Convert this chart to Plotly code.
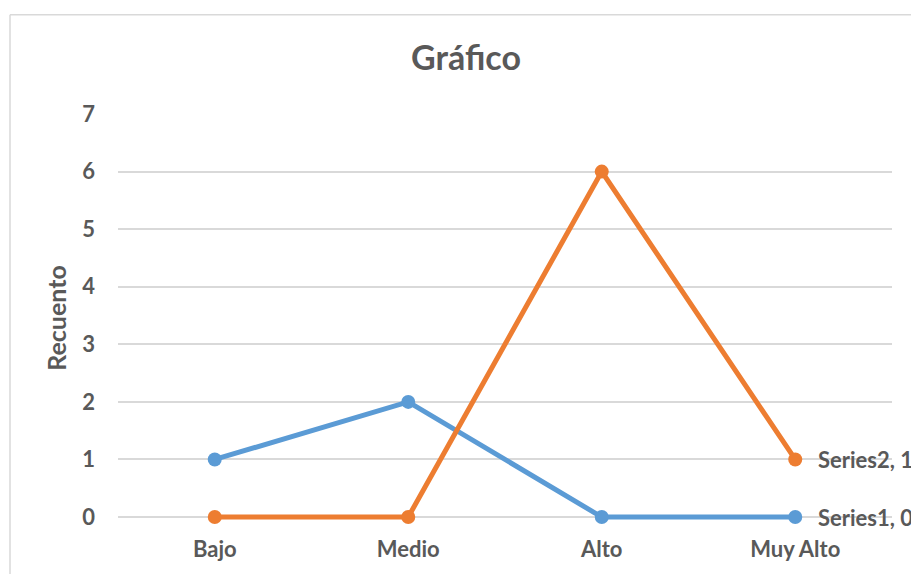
import plotly.graph_objects as go

categories = ["Bajo", "Medio", "Alto", "Muy Alto"]
series1 = [1, 2, 0, 0]
series2 = [0, 0, 6, 1]
y_ticks = [0, 1, 2, 3, 4, 5, 6, 7]

FONT = "Lato, 'Open Sans', sans-serif"
TXT = "#595959"
GRID = "#d9d9d9"

# a small pad below 0 keeps the zero-valued line segments from being
# clipped in half by the plot area
PAD = 35 / 406

fig = go.Figure()
for name, values, color in [("Series1", series1, "#5b9bd5"),
                            ("Series2", series2, "#ed7d31")]:
    fig.add_trace(go.Scatter(
        x=categories, y=values, name=name, mode="lines+markers",
        line=dict(color=color, width=5), marker=dict(size=14, color=color),
        cliponaxis=False,
    ))
    # label on the last point
    fig.add_annotation(
        x=categories[-1], y=values[-1], text=f"<b>{name}, {values[-1]}</b>",
        xanchor="left", yanchor="middle", xshift=21, showarrow=False,
        font=dict(family=FONT, size=22, color=TXT),
    )

# outer chart frame (top and left edges)
top_y = (525 - 14) / 411
left_x = (10 - 118) / 774
fig.add_shape(type="line", xref="paper", yref="paper",
              x0=left_x, x1=2, y0=top_y, y1=top_y,
              line=dict(color=GRID, width=1.5))
fig.add_shape(type="line", xref="paper", yref="paper",
              x0=left_x, x1=left_x, y0=top_y, y1=-1,
              line=dict(color=GRID, width=1.5))

fig.update_layout(
    width=911, height=574,
    margin=dict(l=118, r=19, t=114, b=49),
    paper_bgcolor="white", plot_bgcolor="white",
    showlegend=False,
    title=dict(text="<b>Gráfico</b>", x=466 / 911, xanchor="center",
               y=1 - 58 / 574, yanchor="middle",
               font=dict(family=FONT, size=34, color=TXT)),
    font=dict(family=FONT, color=TXT),
)
fig.update_xaxes(
    type="category", range=[-0.5, 3.5], showgrid=False, zeroline=False,
    showline=False, ticks="", ticklabelstandoff=12,
    tickfont=dict(family=FONT, size=22, color=TXT, weight="bold"),
)
fig.update_yaxes(
    range=[-PAD, 7], tickvals=y_ticks, showgrid=True, gridcolor=GRID, gridwidth=1.5,
    zeroline=False, showline=False, ticks="", ticklabelstandoff=22,
    tickfont=dict(family=FONT, size=22, color=TXT, weight="bold"),
    title=dict(text="<b>Recuento</b>", standoff=8,
               font=dict(family=FONT, size=25, color=TXT)),
)

fig.write_html("out.html")
